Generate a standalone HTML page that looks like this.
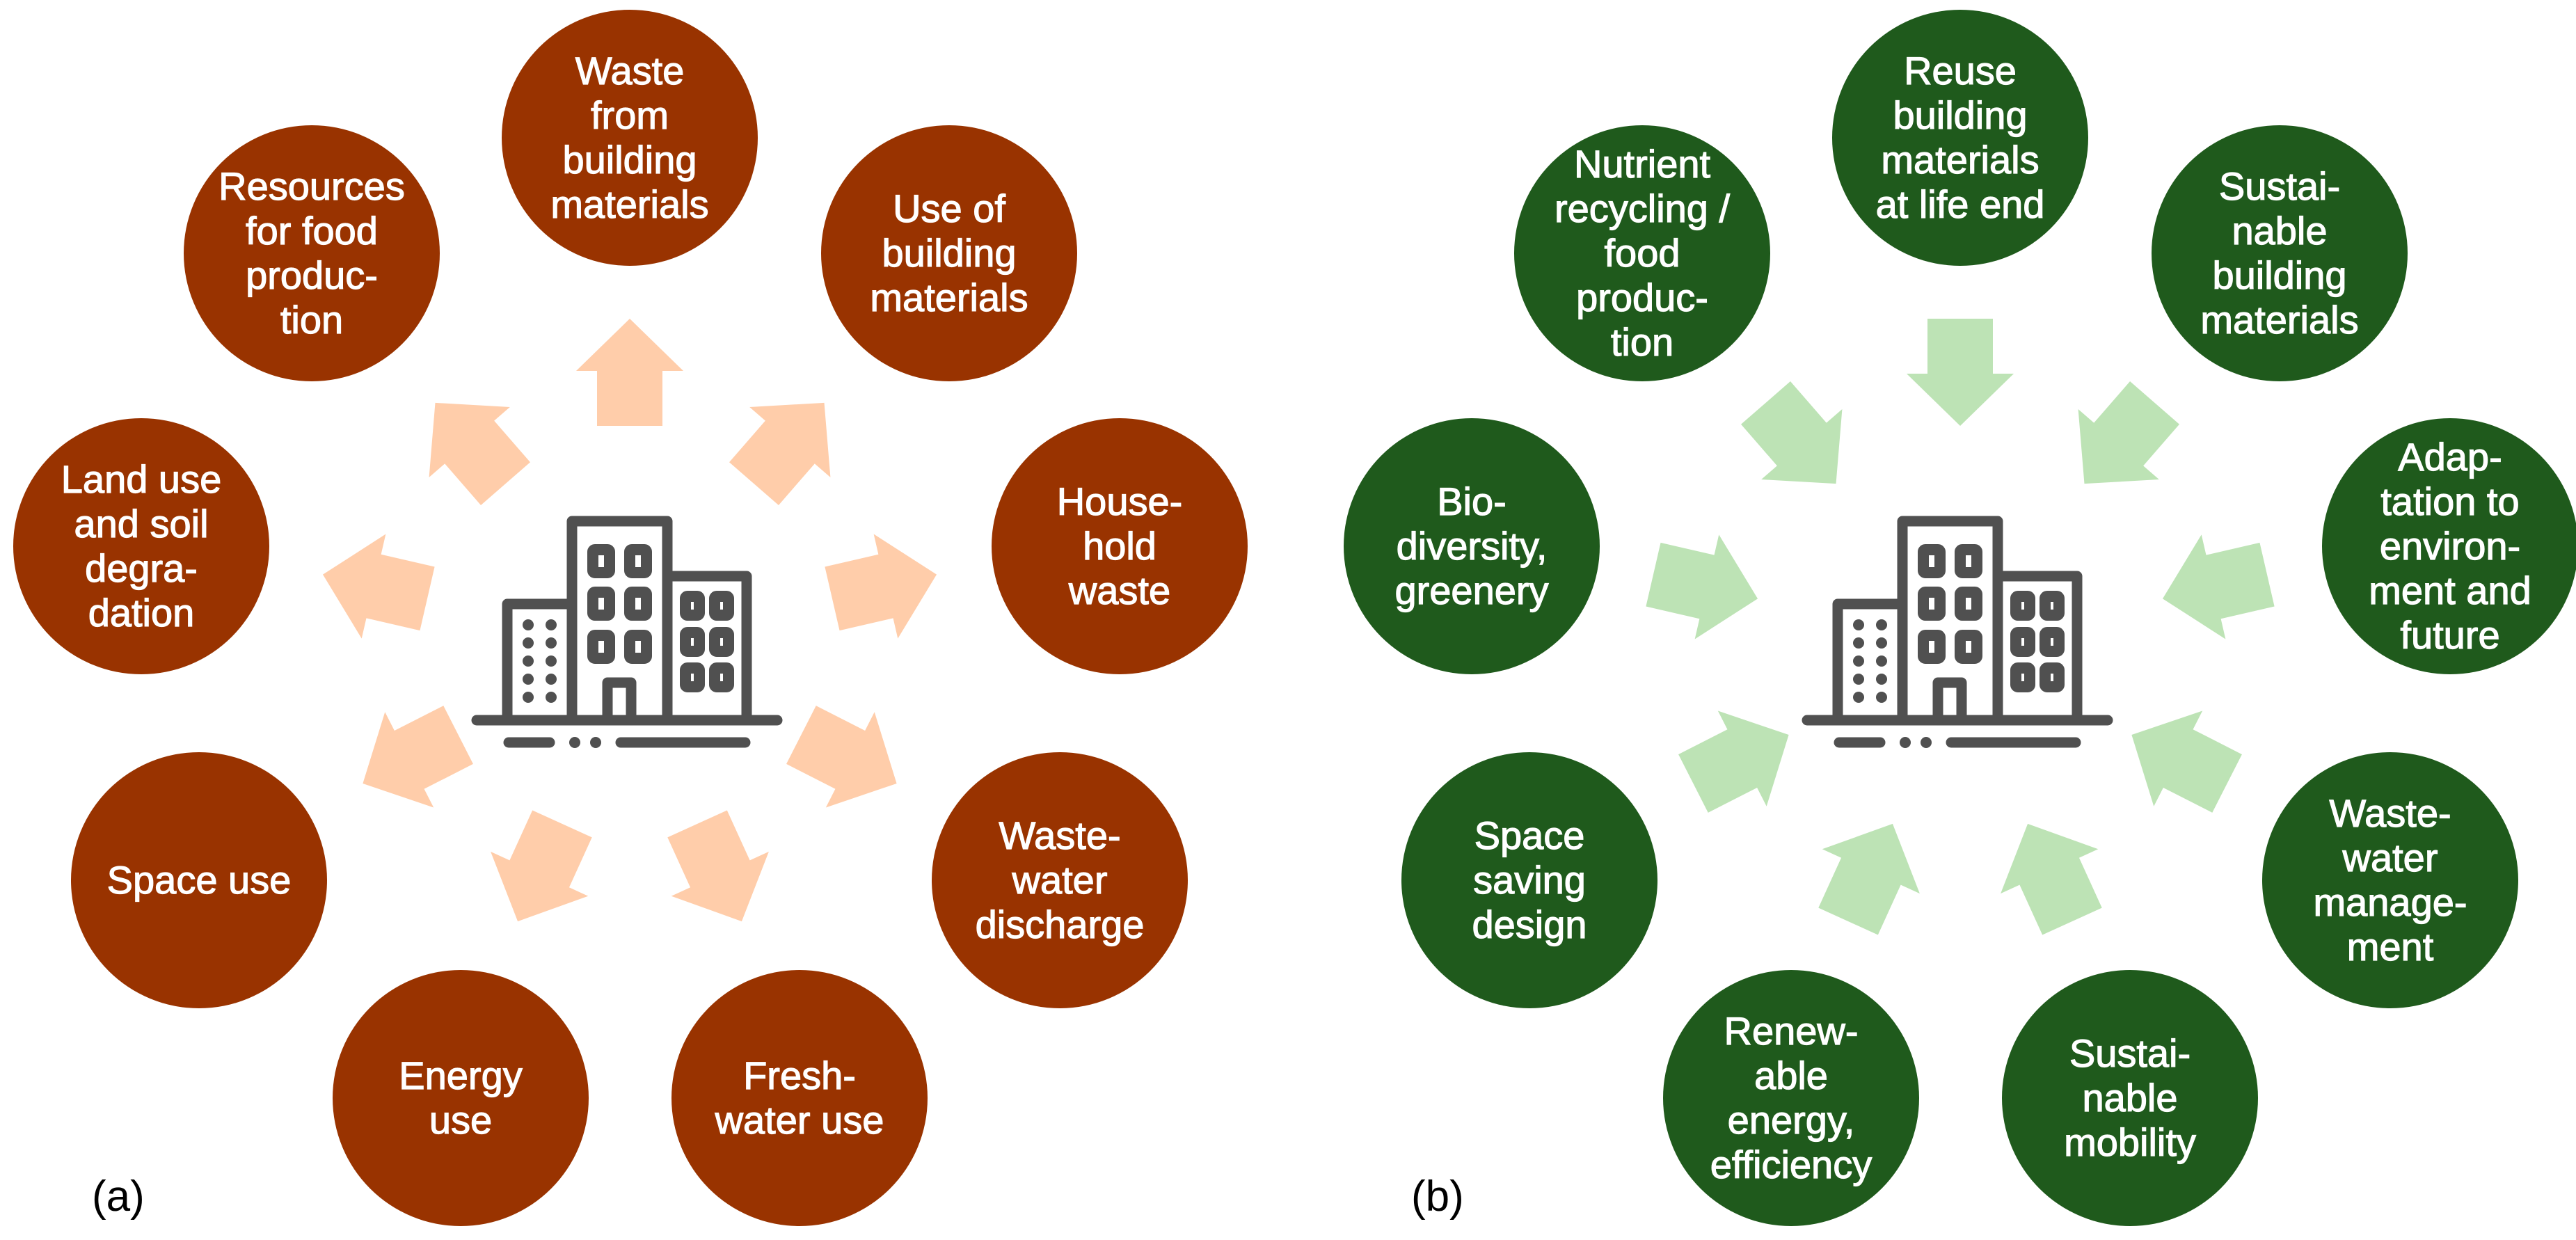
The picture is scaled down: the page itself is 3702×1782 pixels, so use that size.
<!DOCTYPE html>
<html><head><meta charset="utf-8"><style>
html,body{margin:0;padding:0;background:#fff;}
svg{display:block;}
.c1{fill:#993300;}
.c2{fill:#1F5A1C;}
.t{font-family:"Liberation Sans",sans-serif;font-size:56px;fill:#fff;stroke:#fff;stroke-width:1.2px;text-anchor:middle;}
.lab{font-family:"Liberation Sans",sans-serif;font-size:62px;fill:#000;}
</style></head><body>
<svg width="3702" height="1782" viewBox="0 0 3702 1782" xmlns="http://www.w3.org/2000/svg">
<defs>
<polygon id="arr" points="0,-77 77,-2 47,-2 47,77 -47,77 -47,-2 -77,-2"/>
<g id="bld">
<g fill="none" stroke="#505050" stroke-width="15" stroke-linejoin="round" stroke-linecap="round">
<path d="M729,1035 V868 H822"/>
<path d="M822,1035 V749 H959 V1035"/>
<path d="M959,828 H1073 V1035"/>
<line x1="685" y1="1035" x2="1117" y2="1035"/>
<path d="M873,1035 V981 H907 V1035"/>
<line x1="731" y1="1067" x2="790" y2="1067"/>
<line x1="892" y1="1067" x2="1071" y2="1067"/>
</g>
<g fill="none" stroke="#505050" stroke-width="16">
<rect x="852" y="790" width="24" height="33" rx="3"/>
<rect x="905" y="790" width="24" height="33" rx="3"/>
<rect x="852" y="851" width="24" height="33" rx="3"/>
<rect x="905" y="851" width="24" height="33" rx="3"/>
<rect x="852" y="913" width="24" height="33" rx="3"/>
<rect x="905" y="913" width="24" height="33" rx="3"/>
<rect x="985" y="857" width="20" height="27" rx="3"/>
<rect x="1027" y="857" width="20" height="27" rx="3"/>
<rect x="985" y="909" width="20" height="27" rx="3"/>
<rect x="1027" y="909" width="20" height="27" rx="3"/>
<rect x="985" y="960" width="20" height="27" rx="3"/>
<rect x="1027" y="960" width="20" height="27" rx="3"/>
</g>
<g fill="#505050">
<circle cx="759" cy="898" r="8"/><circle cx="792" cy="898" r="8"/>
<circle cx="759" cy="924" r="8"/><circle cx="792" cy="924" r="8"/>
<circle cx="759" cy="950" r="8"/><circle cx="792" cy="950" r="8"/>
<circle cx="759" cy="976" r="8"/><circle cx="792" cy="976" r="8"/>
<circle cx="759" cy="1002" r="8"/><circle cx="792" cy="1002" r="8"/>
<circle cx="826" cy="1067" r="8"/><circle cx="856" cy="1067" r="8"/>
</g>
</g>
</defs>

<!-- LEFT PANEL -->
<g fill="#FFCDAA">
<use href="#arr" transform="translate(905,535) rotate(0)"/>
<use href="#arr" transform="translate(1134,637) rotate(41)"/>
<use href="#arr" transform="translate(1271,843) rotate(77)"/>
<use href="#arr" transform="translate(1220,1091) rotate(117)"/>
<use href="#arr" transform="translate(1034,1254) rotate(155.5)"/>
<use href="#arr" transform="translate(676,637) rotate(-41)"/>
<use href="#arr" transform="translate(539,843) rotate(-77)"/>
<use href="#arr" transform="translate(590,1091) rotate(-117)"/>
<use href="#arr" transform="translate(776,1254) rotate(-155.5)"/>
</g>
<use href="#bld"/>
<g class="c1">
<circle cx="905" cy="198" r="184"/>
<circle cx="448" cy="364" r="184"/>
<circle cx="1364" cy="364" r="184"/>
<circle cx="203" cy="785" r="184"/>
<circle cx="1609" cy="785" r="184"/>
<circle cx="286" cy="1265" r="184"/>
<circle cx="1523" cy="1265" r="184"/>
<circle cx="662" cy="1578" r="184"/>
<circle cx="1149" cy="1578" r="184"/>
</g>
<text class="t"><tspan x="905" y="121">Waste</tspan><tspan x="905" y="185">from</tspan><tspan x="905" y="249">building</tspan><tspan x="905" y="313">materials</tspan></text>
<text class="t"><tspan x="448" y="287">Resources</tspan><tspan x="448" y="351">for food</tspan><tspan x="448" y="415">produc-</tspan><tspan x="448" y="479">tion</tspan></text>
<text class="t"><tspan x="1364" y="319">Use of</tspan><tspan x="1364" y="383">building</tspan><tspan x="1364" y="447">materials</tspan></text>
<text class="t"><tspan x="203" y="708">Land use</tspan><tspan x="203" y="772">and soil</tspan><tspan x="203" y="836">degra-</tspan><tspan x="203" y="900">dation</tspan></text>
<text class="t"><tspan x="1609" y="740">House-</tspan><tspan x="1609" y="804">hold</tspan><tspan x="1609" y="868">waste</tspan></text>
<text class="t"><tspan x="286" y="1284">Space use</tspan></text>
<text class="t"><tspan x="1523" y="1220">Waste-</tspan><tspan x="1523" y="1284">water</tspan><tspan x="1523" y="1348">discharge</tspan></text>
<text class="t"><tspan x="662" y="1565">Energy</tspan><tspan x="662" y="1629">use</tspan></text>
<text class="t"><tspan x="1149" y="1565">Fresh-</tspan><tspan x="1149" y="1629">water use</tspan></text>
<text class="lab" x="132" y="1740">(a)</text>

<!-- RIGHT PANEL -->
<g fill="#BDE3B5">
<use href="#arr" transform="translate(2817,535) rotate(180)"/>
<use href="#arr" transform="translate(3046,637) rotate(221)"/>
<use href="#arr" transform="translate(3183,843) rotate(257)"/>
<use href="#arr" transform="translate(3132,1091) rotate(297)"/>
<use href="#arr" transform="translate(2946,1254) rotate(335.5)"/>
<use href="#arr" transform="translate(2588,637) rotate(139)"/>
<use href="#arr" transform="translate(2451,843) rotate(103)"/>
<use href="#arr" transform="translate(2502,1091) rotate(63)"/>
<use href="#arr" transform="translate(2688,1254) rotate(24.5)"/>
</g>
<use href="#bld" transform="translate(1912,0)"/>
<g class="c2">
<circle cx="2817" cy="198" r="184"/>
<circle cx="2360" cy="364" r="184"/>
<circle cx="3276" cy="364" r="184"/>
<circle cx="2115" cy="785" r="184"/>
<circle cx="3521" cy="785" r="184"/>
<circle cx="2198" cy="1265" r="184"/>
<circle cx="3435" cy="1265" r="184"/>
<circle cx="2574" cy="1578" r="184"/>
<circle cx="3061" cy="1578" r="184"/>
</g>
<text class="t"><tspan x="2817" y="121">Reuse</tspan><tspan x="2817" y="185">building</tspan><tspan x="2817" y="249">materials</tspan><tspan x="2817" y="313">at life end</tspan></text>
<text class="t"><tspan x="2360" y="255">Nutrient</tspan><tspan x="2360" y="319">recycling /</tspan><tspan x="2360" y="383">food</tspan><tspan x="2360" y="447">produc-</tspan><tspan x="2360" y="511">tion</tspan></text>
<text class="t"><tspan x="3276" y="287">Sustai-</tspan><tspan x="3276" y="351">nable</tspan><tspan x="3276" y="415">building</tspan><tspan x="3276" y="479">materials</tspan></text>
<text class="t"><tspan x="2115" y="740">Bio-</tspan><tspan x="2115" y="804">diversity,</tspan><tspan x="2115" y="868">greenery</tspan></text>
<text class="t"><tspan x="3521" y="676">Adap-</tspan><tspan x="3521" y="740">tation to</tspan><tspan x="3521" y="804">environ-</tspan><tspan x="3521" y="868">ment and</tspan><tspan x="3521" y="932">future</tspan></text>
<text class="t"><tspan x="2198" y="1220">Space</tspan><tspan x="2198" y="1284">saving</tspan><tspan x="2198" y="1348">design</tspan></text>
<text class="t"><tspan x="3435" y="1188">Waste-</tspan><tspan x="3435" y="1252">water</tspan><tspan x="3435" y="1316">manage-</tspan><tspan x="3435" y="1380">ment</tspan></text>
<text class="t"><tspan x="2574" y="1501">Renew-</tspan><tspan x="2574" y="1565">able</tspan><tspan x="2574" y="1629">energy,</tspan><tspan x="2574" y="1693">efficiency</tspan></text>
<text class="t"><tspan x="3061" y="1533">Sustai-</tspan><tspan x="3061" y="1597">nable</tspan><tspan x="3061" y="1661">mobility</tspan></text>
<text class="lab" x="2028" y="1740">(b)</text>
</svg>
</body></html>
